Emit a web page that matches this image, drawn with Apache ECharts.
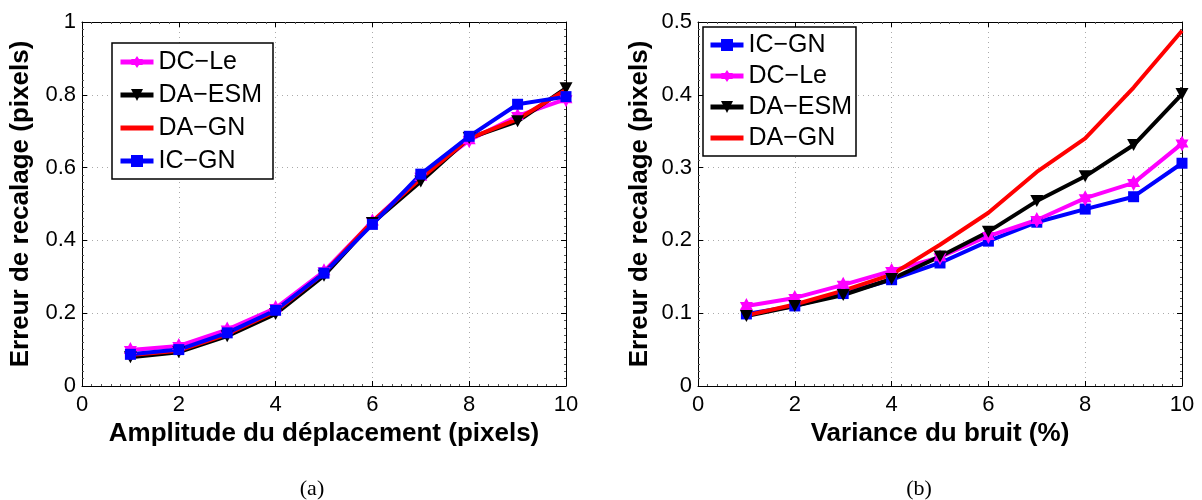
<!DOCTYPE html>
<html>
<head>
<meta charset="utf-8">
<script src="https://cdn.jsdelivr.net/npm/echarts@6/dist/echarts.min.js"></script>
<style>html,body{margin:0;padding:0;background:#fff;}#c{width:1202px;height:500px;}</style>
</head>
<body>
<div id="c"></div>
<script>
// ---- data ----
const xValues = [1, 2, 3, 4, 5, 6, 7, 8, 9, 10];
const xTicks = [0, 2, 4, 6, 8, 10];
// (a) Amplitude du déplacement
const aDCLe  = [0.099, 0.110, 0.155, 0.214, 0.315, 0.452, 0.575, 0.675, 0.742, 0.788];
const aDAESM = [0.079, 0.093, 0.137, 0.198, 0.303, 0.448, 0.562, 0.681, 0.727, 0.818];
const aDAGN  = [0.085, 0.097, 0.142, 0.205, 0.310, 0.452, 0.570, 0.680, 0.733, 0.814];
const aICGN  = [0.087, 0.100, 0.146, 0.208, 0.310, 0.444, 0.582, 0.686, 0.774, 0.795];
// (b) Variance du bruit
const bICGN  = [0.099, 0.110, 0.127, 0.146, 0.169, 0.199, 0.225, 0.243, 0.260, 0.306];
const bDCLe  = [0.110, 0.121, 0.139, 0.158, 0.177, 0.206, 0.228, 0.258, 0.279, 0.333];
const bDAESM = [0.096, 0.110, 0.125, 0.147, 0.178, 0.212, 0.254, 0.288, 0.331, 0.401];
const bDAGN  = [0.097, 0.112, 0.131, 0.153, 0.194, 0.238, 0.294, 0.340, 0.410, 0.488];
const yTicksA = [0, 0.2, 0.4, 0.6, 0.8, 1];
const yTicksB = [0, 0.1, 0.2, 0.3, 0.4, 0.5];
const legendA = ['DC\u2212Le', 'DA\u2212ESM', 'DA\u2212GN', 'IC\u2212GN'];
const legendB = ['IC\u2212GN', 'DC\u2212Le', 'DA\u2212ESM', 'DA\u2212GN'];
const xNameA = 'Amplitude du d\u00e9placement (pixels)';
const xNameB = 'Variance du bruit (%)';
const yName = 'Erreur de recalage (pixels)';

// ---- styling ----
const FONT = 'Liberation Sans, Arial, sans-serif';
const star = 'path://M0,-100L28.9,-50L86.6,-50L57.7,0L86.6,50L28.9,50L0,100L-28.9,50L-86.6,50L-57.7,0L-86.6,-50L-28.9,-50Z';
const styles = {
  'DC\u2212Le':  {color: '#ff00ff', symbol: star, symbolSize: [15, 16], rot: 0},
  'DA\u2212ESM': {color: '#000000', symbol: 'triangle', symbolSize: [13, 12], rot: 180},
  'DA\u2212GN':  {color: '#ff0000', symbol: 'none', symbolSize: 0, rot: 0},
  'IC\u2212GN':  {color: '#0000ff', symbol: 'rect', symbolSize: 11, rot: 0}
};
function mkSeries(name, data, idx) {
  const s = styles[name];
  return {
    type: 'line', name: name, xAxisIndex: idx, yAxisIndex: idx,
    data: xValues.map((x, i) => [x, data[i]]),
    symbol: s.symbol, symbolSize: s.symbolSize, symbolRotate: s.rot, symbolKeepAspect: true,
    showSymbol: s.symbol !== 'none',
    lineStyle: {color: s.color, width: 4},
    itemStyle: {color: s.color},
    animation: false
  };
}
function xAx(gi, name, primary) {
  return {
    type: 'value', gridIndex: gi, min: 0, max: 10, interval: 2,
    position: primary ? 'bottom' : 'top',
    name: primary ? name : '', nameLocation: 'middle', nameGap: 28,
    nameTextStyle: {fontFamily: FONT, fontSize: 26, fontWeight: 'bold', color: '#000'},
    axisLine: {show: true, onZero: false, lineStyle: {color: '#000', width: 1}},
    axisTick: {show: true, inside: true, length: 5, lineStyle: {color: '#000'}},
    minorTick: {show: true, splitNumber: 10, length: 2, lineStyle: {color: '#555'}},
    axisLabel: {show: primary, fontFamily: FONT, fontSize: 22, color: '#000', margin: 8,
      formatter: v => xTicks.includes(v) ? String(v) : ''},
    splitLine: {show: primary, lineStyle: {color: '#aaa', type: [1, 4], width: 1}}
  };
}
function yAx(gi, max, interval, ticks, primary, gap) {
  return {
    type: 'value', gridIndex: gi, min: 0, max: max, interval: interval,
    position: primary ? 'left' : 'right',
    name: primary ? yName : '', nameLocation: 'middle', nameGap: gap,
    nameTextStyle: {fontFamily: FONT, fontSize: 26, fontWeight: 'bold', color: '#000'},
    axisLine: {show: true, onZero: false, lineStyle: {color: '#000', width: 1}},
    axisTick: {show: true, inside: true, length: 5, lineStyle: {color: '#000'}},
    minorTick: {show: true, splitNumber: 10, length: 2, lineStyle: {color: '#555'}},
    axisLabel: {show: primary, fontFamily: FONT, fontSize: 22, color: '#000', margin: 6,
      formatter: v => { const t = ticks.find(k => Math.abs(k - v) < 1e-9); return t === undefined ? '' : String(t); }},
    splitLine: {show: primary, lineStyle: {color: '#aaa', type: [1, 4], width: 1}}
  };
}
function legendItems(names) {
  return names.map(n => styles[n].symbol === 'none'
    ? {name: n, lineStyle: {width: 5}, itemStyle: {color: 'rgba(0,0,0,0)', borderColor: 'rgba(0,0,0,0)', borderWidth: 0}}
    : {name: n, lineStyle: {width: 5}});
}
function mkLegend(names, left, top, gap, padding) {
  return {
    data: legendItems(names), orient: 'vertical', left: left, top: top,
    itemWidth: 33, itemHeight: 15, itemGap: gap,
    padding: padding,
    lineStyle: {width: 5},
    backgroundColor: '#fff', borderColor: '#000', borderWidth: 1.5, borderRadius: 0,
    textStyle: {fontFamily: FONT, fontSize: 25, color: '#000', lineHeight: 26},
    selectedMode: false
  };
}

const chart = echarts.init(document.getElementById('c'));
chart.setOption({
  backgroundColor: '#fff',
  animation: false,
  title: [
    {text: '(a)', left: 307, top: 473, textAlign: 'center', textStyle: {fontFamily: 'Liberation Serif, Times New Roman, serif', fontSize: 22, fontWeight: 'normal', color: '#000'}},
    {text: '(b)', left: 914, top: 473, textAlign: 'center', textStyle: {fontFamily: 'Liberation Serif, Times New Roman, serif', fontSize: 22, fontWeight: 'normal', color: '#000'}}
  ],
  legend: [
    mkLegend(legendA, 112, 43, 7, [6, 11, 5, 6]),
    mkLegend(legendB, 703, 27, 5, [5, 4, 5, 5])
  ],
  grid: [
    {left: 82, right: 636, top: 22, bottom: 114, containLabel: false},
    {left: 698, right: 20, top: 22, bottom: 114, containLabel: false}
  ],
  xAxis: [xAx(0, xNameA, true), xAx(1, xNameB, true), xAx(0, '', false), xAx(1, '', false)],
  yAxis: [yAx(0, 1, 0.2, yTicksA, true, 48), yAx(1, 0.5, 0.1, yTicksB, true, 45),
          yAx(0, 1, 0.2, yTicksA, false, 0), yAx(1, 0.5, 0.1, yTicksB, false, 0)],
  series: [
    mkSeries('DC\u2212Le', aDCLe, 0),
    mkSeries('DA\u2212ESM', aDAESM, 0),
    mkSeries('DA\u2212GN', aDAGN, 0),
    mkSeries('IC\u2212GN', aICGN, 0),
    mkSeries('IC\u2212GN', bICGN, 1),
    mkSeries('DC\u2212Le', bDCLe, 1),
    mkSeries('DA\u2212ESM', bDAESM, 1),
    mkSeries('DA\u2212GN', bDAGN, 1)
  ]
});
</script>
</body>
</html>
